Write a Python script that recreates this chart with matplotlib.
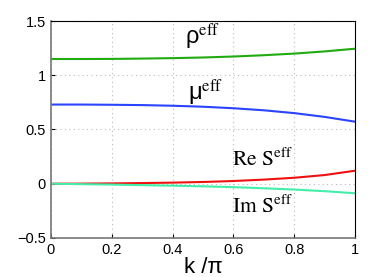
import numpy as np
import matplotlib
matplotlib.use('Agg')
import matplotlib.pyplot as plt

plt.rcParams['mathtext.fontset'] = 'stix'
plt.rcParams['font.family'] = ['Liberation Sans', 'DejaVu Sans']

k = [0.0, 0.1, 0.2, 0.3, 0.4, 0.5, 0.6, 0.7, 0.8, 0.9, 1.0]
rho = [1.15, 1.15, 1.151, 1.154, 1.158, 1.164, 1.173, 1.185, 1.200, 1.220, 1.245]
mu = [0.73, 0.73, 0.728, 0.725, 0.719, 0.710, 0.696, 0.677, 0.651, 0.616, 0.572]
re_s = [0.0, 0.001, 0.003, 0.006, 0.010, 0.016, 0.025, 0.038, 0.055, 0.080, 0.120]
im_s = [0.0, -0.004, -0.008, -0.013, -0.018, -0.024, -0.032, -0.042, -0.054, -0.069, -0.088]

fig = plt.figure(figsize=(3.92, 2.77), dpi=100)
ax = fig.add_axes([0.130, 0.141, 0.776, 0.783])

ax.plot(k, rho, color='#22aa11', lw=1.5)
ax.plot(k, mu, color='#2a44ff', lw=1.5)
ax.plot(k, re_s, color='#ee1111', lw=1.5)
ax.plot(k, im_s, color='#44eeaa', lw=1.5)

ax.text(0.44, 1.29, '\u03c1' + r'$^{\rm eff}$', fontsize=17)
ax.text(0.45, 0.77, '\u03bc' + r'$^{\rm eff}$', fontsize=17)
ax.text(0.595, 0.16, r'$\rm Re\ S^{eff}$', fontsize=15.5)
ax.text(0.595, -0.27, r'$\rm Im\ S^{eff}$', fontsize=15.5)

ax.set_xlim(0, 1)
ax.set_ylim(-0.5, 1.5)
ax.set_xticks([0, 0.2, 0.4, 0.6, 0.8, 1])
ax.set_xticklabels(['0', '0.2', '0.4', '0.6', '0.8', '1'])
ax.set_yticks([-0.5, 0, 0.5, 1, 1.5])
ax.set_yticklabels(['\u22120.5', '0', '0.5', '1', '1.5'])
ax.grid(True, linestyle=(0, (1, 3)), color='#bbbbbb', lw=0.8)
ax.tick_params(direction='in', labelsize=10.5, length=3)
ax.set_xlabel('k /\u03c0', fontsize=16, labelpad=0)
for s in ['left', 'bottom']:
    ax.spines[s].set_color('#777777')
    ax.spines[s].set_linewidth(1.2)

fig.savefig('out.png', dpi=100)
